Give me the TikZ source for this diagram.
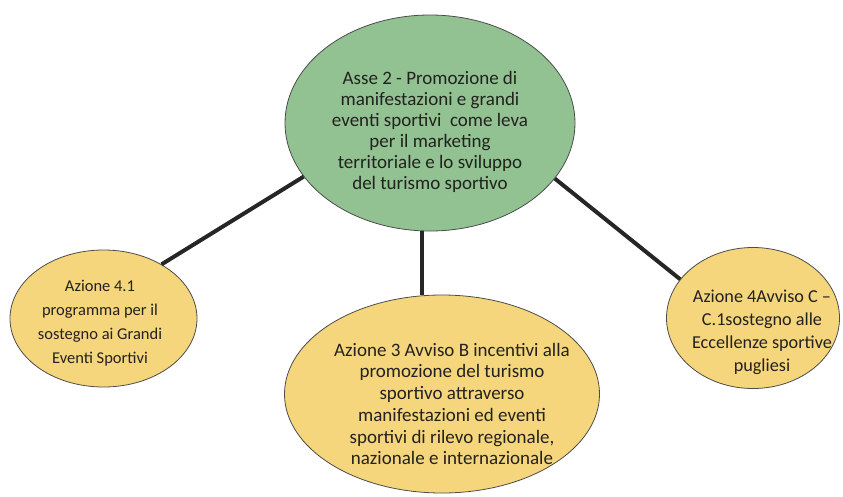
\documentclass[tikz,border=0pt]{standalone}
\usepackage{fontspec}
\setmainfont{Carlito}
\usetikzlibrary{shapes.geometric}
\definecolor{hubgreen}{RGB}{146,193,146}
\definecolor{leafyellow}{RGB}{246,214,124}
\definecolor{inktext}{RGB}{34,34,30}

\begin{document}
\begin{tikzpicture}[x=1pt,y=-1pt,
    bubble/.style={ellipse,draw=black!70,line width=0.8pt,inner sep=0pt},
    hub/.style={bubble,fill=hubgreen},
    leaf/.style={bubble,fill=leafyellow},
    btext/.style={align=center,text=inktext,inner sep=0pt},
    link/.style={line width=4pt,draw=black!85}]
        \useasboundingbox (0,0) rectangle (843,496);

        \node[hub,minimum width=290pt,minimum height=216pt] (asse) at (430,123) {};
        \node[btext,font=\fontsize{19}{21}\selectfont] (asseT) at (430,132)
            {Asse 2 - Promozione di\\manifestazioni e grandi\\eventi sportivi\ \ come leva\\per il marketing\\territoriale e lo sviluppo\\del turismo sportivo};

        \node[leaf,minimum width=187pt,minimum height=137pt] (az41) at (103.5,318.5) {};
        \node[btext,font=\fontsize{16.5}{24}\selectfont] (az41T) at (100,323)
            {Azione 4.1\\programma per il\\sostegno ai Grandi\\Eventi Sportivi};

        \node[leaf,minimum width=315pt,minimum height=198pt] (az3) at (442,394) {};
        \node[btext,font=\fontsize{19}{21.7}\selectfont] (az3T) at (452,404)
            {Azione 3 Avviso B incentivi alla\\promozione del turismo\\sportivo attraverso\\manifestazioni ed eventi\\sportivi di rilevo regionale,\\nazionale e internazionale};

        \node[leaf,minimum width=173pt,minimum height=141pt] (az4) at (753,318) {};
        \node[btext,font=\fontsize{18.2}{23}\selectfont] (az4T) at (762,332)
            {Azione 4Avviso C --\\C.1sostegno alle\\Eccellenze sportive\\pugliesi};

        \draw[link] (asse.203) -- (az41.43);
        \draw[link] (asse.266) -- (asse.266 |- az3.north);
        \draw[link] (asse.336) -- (az4.152);

    \end{tikzpicture}
\end{document}
